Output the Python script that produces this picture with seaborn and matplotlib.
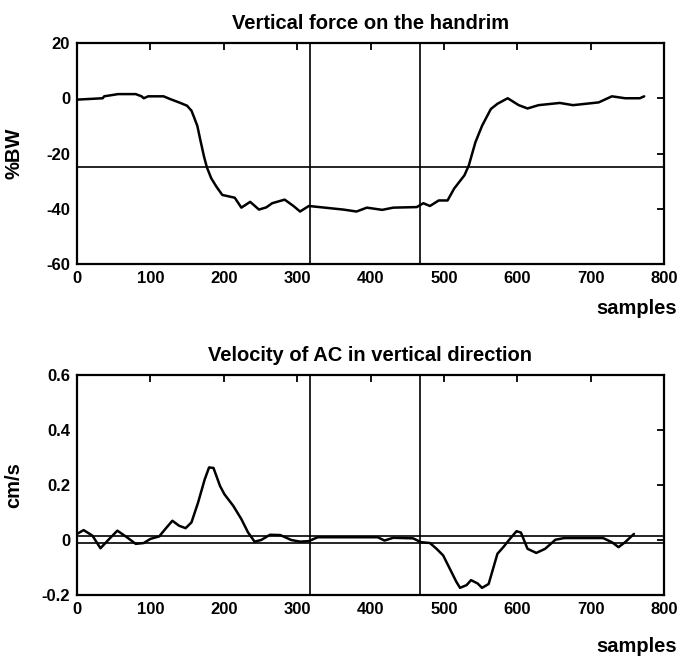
import matplotlib
matplotlib.use("Agg")
import matplotlib.pyplot as plt
import seaborn as sns
import pandas as pd

# Vertical force on the handrim (%BW) against sample index
force_samples = [0, 35, 37, 56, 80, 88, 91, 97, 118, 127, 139, 150, 156, 159, 164,
                 168, 173, 177, 183, 190, 198, 215, 224, 236, 248, 258, 266, 283,
                 295, 304, 316, 334, 363, 381, 395, 416, 431, 463, 472, 481, 493,
                 505, 514, 528, 534, 543, 552, 564, 573, 587, 602, 614, 629, 658,
                 676, 711, 729, 747, 767, 773]
force_values = [-0.5, 0, 0.7, 1.5, 1.5, 0.7, 0, 0.7, 0.7, -0.3, -1.5, -2.7, -4.5, -6.5, -10,
                -15, -21, -25, -29, -32, -35, -36, -39.6, -37.5, -40.3, -39.5, -38, -36.7,
                -39, -41, -39, -39.5, -40.3, -41, -39.6, -40.4, -39.6, -39.4, -38, -39, -37,
                -37, -32.7, -27.9, -24.3, -15.9, -10, -3.9, -2, 0, -2.5, -3.7, -2.5, -1.7,
                -2.5, -1.5, 0.7, 0, 0, 0.7]

# Velocity of the acromion (AC) in vertical direction (cm/s)
vel_samples = [0, 9, 21, 32, 44, 55, 68, 80, 91, 100, 112, 121, 130, 139, 148, 156,
               165, 174, 180, 186, 195, 201, 213, 224, 233, 242, 251, 263, 277, 292,
               304, 316, 328, 410, 419, 431, 458, 469, 481, 490, 499, 508, 517, 522,
               531, 537, 546, 552, 561, 573, 581, 590, 599, 605, 614, 626, 638, 652,
               664, 717, 729, 738, 747, 759]
vel_values = [0.022, 0.036, 0.016, -0.03, 0.004, 0.034, 0.01, -0.014, -0.011, 0.004,
              0.013, 0.042, 0.07, 0.052, 0.043, 0.064, 0.136, 0.22, 0.264, 0.262, 0.196,
              0.166, 0.124, 0.076, 0.028, -0.006, 0.0, 0.019, 0.018, 0.0, -0.006, -0.004,
              0.01, 0.01, -0.002, 0.008, 0.006, -0.008, -0.011, -0.032, -0.056, -0.104,
              -0.152, -0.174, -0.164, -0.146, -0.158, -0.174, -0.16, -0.05, -0.026, 0.004,
              0.032, 0.027, -0.032, -0.047, -0.032, 0.001, 0.007, 0.007, -0.008, -0.026,
              -0.008, 0.022]

# Phase markers and thresholds
phase_marks = [317, 467]
force_threshold = [-25]
vel_band = [0.015, -0.01]

x_ticks = [0, 100, 200, 300, 400, 500, 600, 700, 800]
force_ticks = [-60, -40, -20, 0, 20]
vel_ticks = [-0.2, 0, 0.2, 0.4, 0.6]
vel_tick_labels = ["-0.2", "0", "0.2", "0.4", "0.6"]

sns.set_style("white")
plt.rcParams["font.family"] = ["Liberation Sans", "DejaVu Sans"]
plt.rcParams["font.weight"] = "bold"
plt.rcParams["text.color"] = "black"
plt.rcParams["axes.labelcolor"] = "black"

W, H = 681.0, 658.0
fig = plt.figure(figsize=(6.81, 6.58), dpi=100)
# axes boxes in pixel coordinates: left, top, right, bottom
ax1 = fig.add_axes([77 / W, 1 - 264 / H, (664 - 77) / W, (264 - 43) / H])
ax2 = fig.add_axes([77 / W, 1 - 595 / H, (664 - 77) / W, (595 - 375) / H])

df_force = pd.DataFrame({"samples": force_samples, "value": force_values})
df_vel = pd.DataFrame({"samples": vel_samples, "value": vel_values})


def style_axes(ax, yticks, ylabels, ylim, ylabel, title, samples_y):
    ax.set_xlim(0, 800)
    ax.set_ylim(*ylim)
    ax.set_xticks(x_ticks)
    ax.set_xticklabels([str(t) for t in x_ticks])
    ax.set_yticks(yticks)
    ax.set_yticklabels(ylabels)
    ax.tick_params(direction="in", length=5, width=1.3, top=True, right=True,
                   labelsize=12, pad=5, colors="black")
    for lbl in ax.get_xticklabels() + ax.get_yticklabels():
        lbl.set_fontweight("bold")
    for sp in ax.spines.values():
        sp.set_linewidth(1.6)
        sp.set_color("black")
    ax.set_xlabel("")
    ax.set_ylabel(ylabel, fontsize=14.5, fontweight="bold", color="black")
    ax.yaxis.set_label_coords(-(77 - 23) / 587.0, 0.5)
    ax.set_title(title, fontsize=14.5, fontweight="bold", pad=10, color="black")
    ax.text(677 / W, samples_y, "samples", transform=fig.transFigure,
            ha="right", va="center", fontsize=14.5, fontweight="bold", color="black")


sns.lineplot(data=df_force, x="samples", y="value", ax=ax1, color="black",
             linewidth=1.8)
for xm in phase_marks:
    ax1.axvline(xm, color="black", linewidth=1.2)
for yh in force_threshold:
    ax1.axhline(yh, color="black", linewidth=1.2)
style_axes(ax1, force_ticks, [str(t) for t in force_ticks], (-60, 20), "%BW",
           "Vertical force on the handrim", 1 - 308 / H)

sns.lineplot(data=df_vel, x="samples", y="value", ax=ax2, color="black",
             linewidth=1.8)
for xm in phase_marks:
    ax2.axvline(xm, color="black", linewidth=1.2)
for yh in vel_band:
    ax2.axhline(yh, color="black", linewidth=1.2)
style_axes(ax2, vel_ticks, vel_tick_labels, (-0.2, 0.6), "cm/s",
           "Velocity of AC in vertical direction", 1 - 647 / H)

fig.savefig("out.png", dpi=100)
